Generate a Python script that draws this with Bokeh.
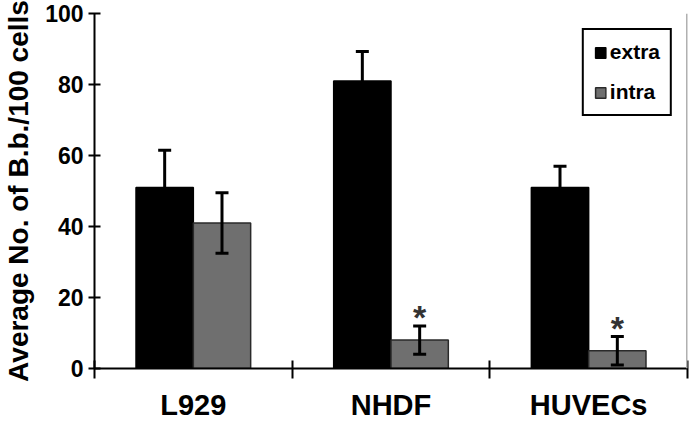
from bokeh.plotting import figure
from bokeh.models import (ColumnDataSource, Range1d, FixedTicker, Whisker, TeeHead,
                          Span, Legend, LegendItem)
from bokeh.transform import dodge
from bokeh.core.properties import value
from bokeh.embed import file_html
from bokeh.resources import INLINE

# ---- data ----
categories = ["L929", "NHDF", "HUVECs"]
extra = [51, 81, 51]
extra_err = [10.5, 8.3, 6]
intra = [41, 8, 5]
intra_err = [8.5, 4, 4]
significant = [False, True, True]
y_ticks = [0, 20, 40, 60, 80, 100]

FONT = "Liberation Sans"
n = len(categories)
centers = [i + 0.5 for i in range(n)]

src = ColumnDataSource(dict(
    x=centers,
    extra=extra,
    intra=intra,
    extra_up=[v + e for v, e in zip(extra, extra_err)],
    extra_lo=[v - e for v, e in zip(extra, extra_err)],
    intra_up=[v + e for v, e in zip(intra, intra_err)],
    intra_lo=[v - e for v, e in zip(intra, intra_err)],
))

p = figure(width=692, height=423, output_backend="svg", toolbar_location=None,
           x_range=Range1d(0, n), y_range=Range1d(0, 100),
           min_border_left=85, min_border_right=5, min_border_top=13, min_border_bottom=30)
p.outline_line_color = None
p.xgrid.grid_line_color = None
p.ygrid.grid_line_color = None

BW = 0.29
r_extra = p.vbar(x=dodge("x", -BW / 2, range=p.x_range), top="extra", width=BW, source=src,
                 fill_color="black", line_color="black", line_width=1.5)
r_intra = p.vbar(x=dodge("x", BW / 2, range=p.x_range), top="intra", width=BW, source=src,
                 fill_color="#6f6f6f", line_color="#2a2a2a", line_width=1.5)

for up, lo, off in (("extra_up", "extra_lo", -BW / 2), ("intra_up", "intra_lo", BW / 2)):
    w = Whisker(base=dodge("x", off, range=p.x_range), upper=up, lower=lo, source=src,
                level="overlay", line_color="black", line_width=3,
                upper_head=TeeHead(size=13, line_width=3, line_color="black"),
                lower_head=TeeHead(size=13, line_width=3, line_color="black"))
    p.add_layout(w)

# significance asterisks
sig_src = ColumnDataSource(dict(
    x=[c + BW / 2 for c, s in zip(centers, significant) if s],
    y=[v + e for v, e, s in zip(intra, intra_err, significant) if s],
    t=["*" for s in significant if s],
))
p.text(x="x", y="y", text="t", source=sig_src, text_align="center",
       text_baseline="alphabetic", y_offset=-9, text_font=value(FONT),
       text_font_style="bold", text_font_size="34px", text_color="#333333")

# right border line
p.add_layout(Span(location=n, dimension="height", line_color="#b0b0b0", line_width=3))

# x axis: labels at centres, tick marks at boundaries (minor ticks)
xa = p.xaxis[0]
xa.ticker = FixedTicker(ticks=centers, minor_ticks=list(range(n + 1)))
xa.major_label_overrides = {c: lab for c, lab in zip(centers, categories)}
xa.major_tick_in = 0
xa.major_tick_out = 0
xa.minor_tick_in = 8
xa.minor_tick_out = 10
xa.minor_tick_line_color = "black"
xa.minor_tick_line_width = 2
xa.axis_line_color = "black"
xa.axis_line_width = 2
xa.major_label_text_font = FONT
xa.major_label_text_font_style = "bold"
xa.major_label_text_font_size = "29px"
xa.major_label_text_color = "black"
xa.major_label_standoff = 10

ya = p.yaxis[0]
ya.ticker = FixedTicker(ticks=y_ticks, minor_ticks=[])
ya.major_tick_in = 6
ya.major_tick_out = 6
ya.major_tick_line_width = 2
ya.major_tick_line_color = "black"
ya.minor_tick_line_color = None
ya.axis_line_color = "black"
ya.axis_line_width = 2
ya.major_label_text_font = FONT
ya.major_label_text_font_style = "bold"
ya.major_label_text_font_size = "23px"
ya.major_label_text_color = "black"
ya.major_label_standoff = 5
ya.axis_label = "Average No. of B.b./100 cells"
ya.axis_label_text_font = FONT
ya.axis_label_text_font_style = "bold"
ya.axis_label_text_font_size = "28px"
ya.axis_label_text_color = "black"
ya.axis_label_standoff = 8

legend = Legend(items=[LegendItem(label="extra", renderers=[r_extra]),
                       LegendItem(label="intra", renderers=[r_intra])],
                location="top_right", margin=15, padding=10, spacing=16,
                glyph_width=13, glyph_height=13, label_standoff=3, label_height=20,
                label_text_font=FONT, label_text_font_style="bold",
                label_text_font_size="21px", label_text_color="black",
                border_line_color="black", border_line_width=2, border_line_alpha=1.0,
                background_fill_color="white", background_fill_alpha=1.0)
p.add_layout(legend)

open("out.html", "w").write(file_html(p, INLINE))
